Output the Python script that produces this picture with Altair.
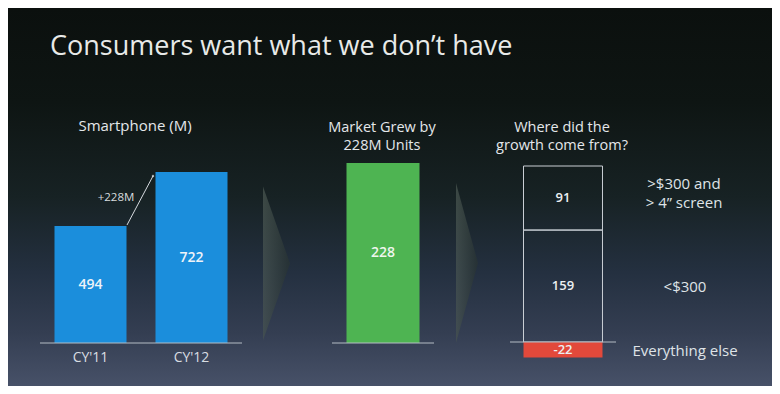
import altair as alt
import pandas as pd

# ---------------- data ----------------
years = ["CY'11", "CY'12"]
smartphones = [494, 722]
increase_text = "+228M"

growth_cat = ["Market growth"]
growth = [228]

segments = ["<$300", ">$300 and\n> 4\u201d screen", "Everything else"]
segment_values = [159, 91, -22]

title_text = "Consumers want what we don\u2019t have"

# ---------------- styling ----------------
W, H = 764, 378
FONT = "Open Sans"
TXT = "#e4e7ea"
LINE = "#b4bbc4"
BLUE = "#1b8edc"
GREEN = "#4eb452"
RED = "#e2493b"

one = pd.DataFrame({"k": [0]})

# panel 1 table
df1 = pd.DataFrame({"year": years, "units": smartphones})
df1["mid"] = df1["units"] / 2
df1["label"] = df1["units"].astype(str)

# panel 2 table
df2 = pd.DataFrame({"cat": growth_cat, "units": growth})
df2["mid"] = df2["units"] / 2
df2["label"] = df2["units"].astype(str)

# panel 3 table (waterfall-style stack)
starts, ends = [], []
pos = neg = 0
for v in segment_values:
    if v >= 0:
        starts.append(pos); pos += v; ends.append(pos)
    else:
        starts.append(neg); neg += v; ends.append(neg)
df3 = pd.DataFrame({"segment": segments, "value": segment_values,
                    "start": starts, "end": ends})
df3["col"] = "Where"
df3["mid"] = (df3["start"] + df3["end"]) / 2
df3["label"] = df3["value"].astype(str)
df3["kind"] = ["box" if v >= 0 else "neg" for v in segment_values]
df3["multi"] = ["\n" in s for s in segments]

# ---------------- scales ----------------
x1 = alt.Scale(domain=years, range=[32, 234], paddingInner=0.287, paddingOuter=0.1435)
y1 = alt.Scale(domain=[0, max(smartphones)], range=[335, 164], nice=False, zero=False)
x2 = alt.Scale(domain=growth_cat, range=[324, 426], paddingInner=0, paddingOuter=0.1986)
y2 = alt.Scale(domain=[0, max(growth)], range=[335, 155], nice=False, zero=False)
x3 = alt.Scale(domain=["Where"], range=[502, 608], paddingInner=0, paddingOuter=0.171)
y3 = alt.Scale(domain=[0, pos], range=[334, 158], nice=False, zero=False)

# ---------------- background ----------------
bg_grad = alt.Gradient(
    gradient="linear", x1=0, x2=0, y1=0, y2=1,
    stops=[
        alt.GradientStop(offset=0, color="#0b100e"),
        alt.GradientStop(offset=0.25, color="#0e1513"),
        alt.GradientStop(offset=0.5, color="#172224"),
        alt.GradientStop(offset=0.7, color="#243040"),
        alt.GradientStop(offset=0.86, color="#343e52"),
        alt.GradientStop(offset=1, color="#475168"),
    ],
)
background = alt.Chart(one).mark_rect(fill=bg_grad).encode(
    x=alt.value(0), x2=alt.value(W), y=alt.value(0), y2=alt.value(H)
)

chev_grad = alt.Gradient(
    gradient="linear", x1=0, x2=1, y1=0, y2=0.3,
    stops=[
        alt.GradientStop(offset=0, color="#56635c"),
        alt.GradientStop(offset=1, color="#2a3532"),
    ],
)


def chevron(cx, cy, h, w):
    hw = w / h
    path = f"M {-hw} -1 L {hw} 0 L {-hw} 1 Z"
    return alt.Chart(one).mark_point(
        shape=path, size=h * h, filled=True, fill=chev_grad, opacity=0.6, strokeWidth=0
    ).encode(x=alt.value(cx), y=alt.value(cy))


def label(text, x, y, size, align="center", baseline="alphabetic", color=TXT,
          weight="normal", line_height=None):
    kw = {}
    if line_height is not None:
        kw["lineHeight"] = line_height
    return alt.Chart(one).mark_text(
        text=text, fontSize=size, font=FONT, align=align, baseline=baseline,
        color=color, fontWeight=weight, **kw
    ).encode(x=alt.value(x), y=alt.value(y))


def baseline_rule(xa, xb, ydatum, scale):
    return alt.Chart(one).mark_rule(color=LINE, strokeWidth=1.2).encode(
        x=alt.value(xa), x2=alt.value(xb), y=alt.Y(datum=ydatum, scale=scale, axis=None)
    )


# ---------------- panel 1 ----------------
bars1 = alt.Chart(df1).mark_bar(color=BLUE).encode(
    x=alt.X("year:N", scale=x1, axis=None),
    y=alt.Y("units:Q", scale=y1, axis=None),
    y2=alt.Y2(datum=0),
)
vals1 = alt.Chart(df1).mark_text(font=FONT, fontSize=14, fontWeight=600, color="#eef3f8").encode(
    x=alt.X("year:N", scale=x1, axis=None),
    y=alt.Y("mid:Q", scale=y1, axis=None),
    text="label:N",
)
cats1 = alt.Chart(df1).mark_text(font=FONT, fontSize=14, color="#d8dde2", baseline="middle").encode(
    x=alt.X("year:N", scale=x1, axis=None),
    y=alt.value(350),
    text="year:N",
)
connector = alt.Chart(one).mark_rule(color="#d6dadf", strokeWidth=1).encode(
    x=alt.value(119), y=alt.value(217), x2=alt.value(145), y2=alt.value(168)
)
connector_tip = alt.Chart(one).mark_point(filled=True, size=6, color="#e0e4e8").encode(
    x=alt.value(145), y=alt.value(168)
)

# ---------------- panel 2 ----------------
bars2 = alt.Chart(df2).mark_bar(color=GREEN).encode(
    x=alt.X("cat:N", scale=x2, axis=None),
    y=alt.Y("units:Q", scale=y2, axis=None),
    y2=alt.Y2(datum=0),
)
vals2 = alt.Chart(df2).mark_text(font=FONT, fontSize=14, fontWeight=600, color="#eef6ee").encode(
    x=alt.X("cat:N", scale=x2, axis=None),
    y=alt.Y("mid:Q", scale=y2, axis=None),
    text="label:N",
)

# ---------------- panel 3 ----------------
boxes3 = alt.Chart(df3).transform_filter("datum.kind == 'box'").mark_bar(
    fill="transparent", stroke="#c9ced4", strokeWidth=1
).encode(
    x=alt.X("col:N", scale=x3, axis=None),
    y=alt.Y("end:Q", scale=y3, axis=None),
    y2="start:Q",
)
neg3 = alt.Chart(df3).transform_filter("datum.kind == 'neg'").mark_bar(color=RED).encode(
    x=alt.X("col:N", scale=x3, axis=None),
    y=alt.Y("end:Q", scale=y3, axis=None),
    y2="start:Q",
)
vals3 = alt.Chart(df3).mark_text(font=FONT, fontSize=13, fontWeight=600, color="#eceff2").encode(
    x=alt.X("col:N", scale=x3, axis=None),
    y=alt.Y("mid:Q", scale=y3, axis=None),
    text="label:N",
)
names_single = alt.Chart(df3).transform_filter("!datum.multi").mark_text(
    font=FONT, fontSize=15, color="#dfe3e7", baseline="middle", dy=1
).encode(
    x=alt.value(677),
    y=alt.Y("mid:Q", scale=y3, axis=None),
    text="segment:N",
)
names_multi = alt.Chart(df3).transform_filter("datum.multi").mark_text(
    font=FONT, fontSize=15, color="#dfe3e7", lineBreak="\n", lineHeight=19,
    baseline="middle", dy=-14
).encode(
    x=alt.value(676),
    y=alt.Y("mid:Q", scale=y3, axis=None),
    text="segment:N",
)

chart = alt.layer(
    background,
    chevron(268.5, 255.5, 154, 27),
    chevron(459, 255, 160, 22),
    label(title_text, 42, 47, 27, align="left", color="#e8eae8"),
    label("Smartphone (M)", 127, 123, 15),
    label(["Market Grew by", "228M Units"], 374, 124, 14.5, line_height=18),
    label(["Where did the", "growth come from?"], 554, 124, 14.5, line_height=18),
    bars1, vals1, cats1, connector, connector_tip,
    label(increase_text, 108, 190, 11.5, baseline="middle", color="#d8dcdf"),
    baseline_rule(32, 234, 0, y1),
    bars2, vals2,
    baseline_rule(324, 426, 0, y2),
    boxes3, neg3,
    baseline_rule(502, 608, 0, y3),
    vals3, names_single, names_multi,
).resolve_scale(x="independent", y="independent").properties(
    width=W, height=H, padding=0,
    autosize=alt.AutoSizeParams(type="none"),
    background="#0d1311",
).configure_view(stroke=None)

chart.save("out.html", embed_options={"renderer": "svg", "actions": False})
